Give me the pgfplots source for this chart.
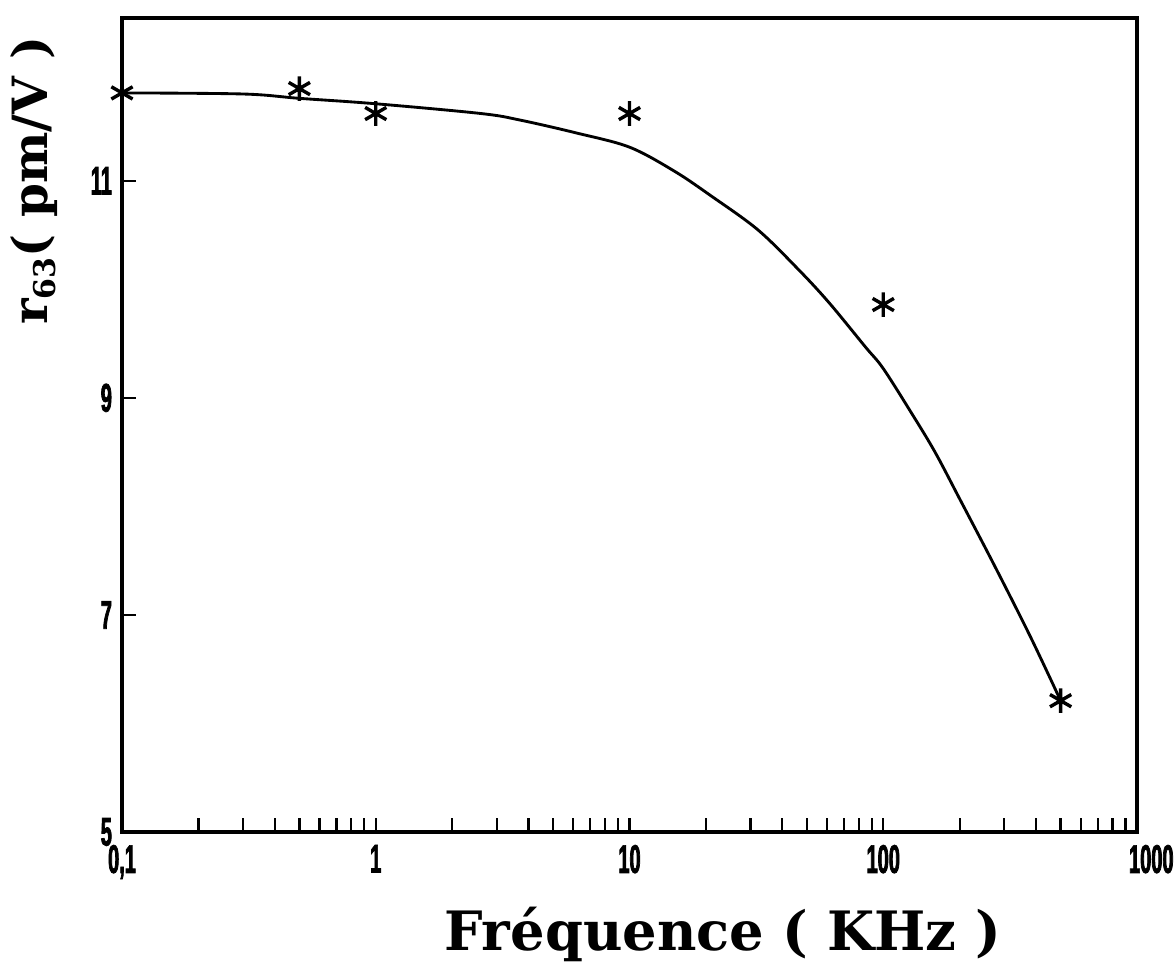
\documentclass[border=0pt]{standalone}
\usepackage{fontspec}
\usepackage{pgfplots}
\pgfplotsset{compat=1.18}
\setmainfont{Liberation Sans}
\newfontfamily\tickfont[FakeStretch=0.5,FakeBold=1.8]{Liberation Sans}
\newfontfamily\labfont{DejaVu Serif}
\begin{document}
\begin{tikzpicture}
\useasboundingbox (-42.7pt,-46.2pt) rectangle (368.55pt,291.2pt);
\begin{axis}[
  scale only axis,
  width=355.25pt, height=284.9pt,
  xmode=log,
  xmin=0.1, xmax=1000,
  ymin=5, ymax=12.5,
  axis line style={line width=1.2pt},
  tick align=inside,
  tick pos=left,
  major tick length=5pt,
  minor tick length=5pt,
  every tick/.style={black, line width=0.8pt},
  xtick={0.1,1,10,100,1000},
  xticklabels={{0,1},1,10,100,\hspace*{10pt}1000},
  ytick={5,7,9,11},
  yticklabels={5,7,9,11},
  ticklabel style={font=\tickfont\bfseries\fontsize{14}{14}\selectfont},
  xticklabel style={yshift=-1pt},
  xlabel={Fréquence ( KHz )},
  xlabel style={font=\labfont\bfseries\fontsize{19}{22}\selectfont, at={(axis description cs:0.592,-0.145)}, anchor=base},
  ylabel={r\raisebox{-0.3ex}{\fontsize{10.5}{11}\selectfont 63}( pm/V )},
  ylabel style={font=\labfont\bfseries\fontsize{17}{20}\selectfont, at={(axis description cs:-0.073,0.80)}, anchor=base, rotate=0},
  clip=false,
]
\addplot[black, line width=1pt, smooth, tension=0.55] coordinates {
(0.1,11.81) (0.3,11.80) (0.5,11.76) (1,11.71) (2.6,11.62) (3.7,11.56)
(6.2,11.44) (10,11.31) (15,11.09) (21,10.86) (32,10.55) (46,10.19)
(61,9.88) (85,9.47) (100,9.27) (130,8.85) (160,8.50) (200,8.07)
(275,7.45) (380,6.80) (500,6.21)
};
\addplot[only marks, mark=asterisk, mark size=4.3pt, mark options={line width=1.2pt}] coordinates {
(0.1,11.81) (0.5,11.85) (1,11.62) (10,11.62) (100,9.86) (500,6.21)
};
\end{axis}
\end{tikzpicture}
\end{document}
